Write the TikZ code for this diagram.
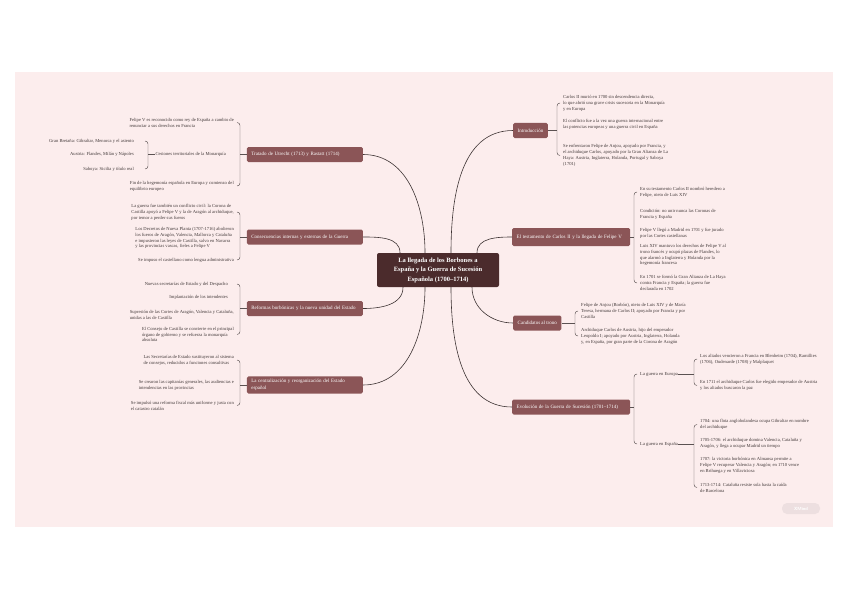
\documentclass[tikz,border=0pt]{standalone}
\usepackage{fontspec}
\setmainfont{Liberation Serif}
\usetikzlibrary{calc}
\definecolor{bgpink}{HTML}{FCEDED}
\definecolor{mainc}{HTML}{4B2B2C}
\definecolor{boxc}{HTML}{8B5557}
\definecolor{linec}{HTML}{3E3434}
\definecolor{txtc}{HTML}{433A3A}
\definecolor{wmc}{HTML}{EDDFE0}
\newcommand\braceLeft[4]{%
  \draw[brk] (#2.west) -- (#2.west -| #1);
  \draw[brk] ($(#3 -| #1)+(-3,0)$) to[out=0,in=90] ($(#3 -| #1)+(0,3)$) -- ($(#4 -| #1)+(0,-3)$) to[out=-90,in=0] ($(#4 -| #1)+(-3,0)$);}
\newcommand\braceRight[4]{%
  \draw[brk] (#2.east) -- (#2.east -| #1);
  \draw[brk] ($(#3 -| #1)+(3,0)$) to[out=180,in=90] ($(#3 -| #1)+(0,3)$) -- ($(#4 -| #1)+(0,-3)$) to[out=-90,in=180] ($(#4 -| #1)+(3,0)$);}
\begin{document}
\begin{tikzpicture}[x=1pt,y=-1pt,
  mainbox/.style={fill=mainc, rounded corners=2pt, text=white, font=\fontsize{6.5}{9.5}\selectfont\bfseries, align=center, minimum width=122, minimum height=34, inner sep=2},
  topic/.style={fill=boxc, rounded corners=1.5pt, text=white, font=\fontsize{5}{7.5}\selectfont, align=left, inner xsep=4.5, inner ysep=2.5, minimum height=15},
  leaf/.style={text=txtc, font=\fontsize{4.6}{5.9}\selectfont, align=left, inner sep=0},
  lleaf/.style={leaf, anchor=east},
  rleaf/.style={leaf, anchor=west},
  trunk/.style={draw=linec, line width=0.6},
  brk/.style={draw=linec!85, line width=0.45},
]
\useasboundingbox (0,0) rectangle (848,599);
\fill[white] (0,0) rectangle (848,599);
\fill[bgpink] (15,72) rectangle (833,527);

% bracket x positions
\coordinate (bxL) at (240,0);
\coordinate (bxS) at (148,0);
\coordinate (bxRa) at (557,0);
\coordinate (bxRb) at (634,0);
\coordinate (bxRc) at (575,0);
\coordinate (bxRd) at (634,0);
\coordinate (bxRe) at (694,0);

% central topic
\node[mainbox] (main) at (438,270) {La llegada de los Borbones a\\España y la Guerra de Sucesión\\Española (1700--1714)};

% ---------- left branches ----------
\node[topic, anchor=east, text width=107] (L1) at (363,154.5) {Tratado de Utrecht (1713) y Rastatt (1714)};
\node[topic, anchor=east, text width=107] (L2) at (363,237) {Consecuencias internas y externas de la Guerra};
\node[topic, anchor=east, text width=107] (L3) at (363,308.5) {Reformas borbónicas y la nueva unidad del Estado};
\node[topic, anchor=east, text width=107] (L4) at (363,385) {La centralización y reorganización del Estado\\español};

% L1 children
\node[lleaf] (L1a) at (234,122.5) {Felipe V es reconocido como rey de España a cambio de\\renunciar a sus derechos en Francia};
\node[lleaf] (L1b) at (226,154.5) {Cesiones territoriales de la Monarquía};
\node[lleaf] (L1c) at (234,186) {Fin de la hegemonía española en Europa y comienzo del\\equilibrio europeo};
\node[lleaf] (L1b1) at (134,141) {Gran Bretaña: Gibraltar, Menorca y el asiento};
\node[lleaf] (L1b2) at (134,154.5) {Austria: Flandes, Milán y Nápoles};
\node[lleaf] (L1b3) at (134,169) {Saboya: Sicilia y título real};

% L2 children
\node[lleaf] (L2a) at (234,212) {La guerra fue también un conflicto civil: la Corona de\\Castilla apoyó a Felipe V y la de Aragón al archiduque,\\por temor a perder sus fueros};
\node[lleaf] (L2b) at (234,238) {Los Decretos de Nueva Planta (1707-1716) abolieron\\los fueros de Aragón, Valencia, Mallorca y Cataluña\\e impusieron las leyes de Castilla, salvo en Navarra\\y las provincias vascas, fieles a Felipe V};
\node[lleaf] (L2c) at (234,260) {Se impuso el castellano como lengua administrativa};

% L3 children
\node[lleaf] (L3a) at (228,284) {Nuevas secretarías de Estado y del Despacho};
\node[lleaf] (L3b) at (228,297) {Implantación de los intendentes};
\node[lleaf] (L3c) at (234,315) {Supresión de las Cortes de Aragón, Valencia y Cataluña,\\unidas a las de Castilla};
\node[lleaf] (L3d) at (234,334.5) {El Consejo de Castilla se convierte en el principal\\órgano de gobierno y se refuerza la monarquía\\absoluta};

% L4 children
\node[lleaf] (L4a) at (234,360) {Las Secretarías de Estado sustituyeron al sistema\\de consejos, reducidos a funciones consultivas};
\node[lleaf] (L4b) at (234,385) {Se crearon las capitanías generales, las audiencias e\\intendencias en las provincias};
\node[lleaf] (L4c) at (234,405.5) {Se impulsó una reforma fiscal más uniforme y justa con\\el catastro catalán};

% ---------- right branches ----------
\node[topic, anchor=west] (R1) at (513,130.5) {Introducción};
\node[topic, anchor=west, text width=109, minimum height=18] (R2) at (512,237) {El testamento de Carlos II y la llegada de Felipe V};
\node[topic, anchor=west] (R3) at (513,323) {Candidatos al trono};
\node[topic, anchor=west, text width=109] (R4) at (512,407) {Evolución de la Guerra de Sucesión (1701--1714)};

% R1 children
\node[rleaf] (R1a) at (563,103) {Carlos II murió en 1700 sin descendencia directa,\\lo que abrió una grave crisis sucesoria en la Monarquía\\y en Europa};
\node[rleaf] (R1b) at (563,124.5) {El conflicto fue a la vez una guerra internacional entre\\las potencias europeas y una guerra civil en España};
\node[rleaf] (R1c) at (563,155.5) {Se enfrentaron Felipe de Anjou, apoyado por Francia, y\\el archiduque Carlos, apoyado por la Gran Alianza de La\\Haya: Austria, Inglaterra, Holanda, Portugal y Saboya\\(1701)};

% R2 children
\node[rleaf] (R2a) at (640,192) {En su testamento Carlos II nombró heredero a\\Felipe, nieto de Luis XIV};
\node[rleaf] (R2b) at (640,214.5) {Condición: no unir nunca las Coronas de\\Francia y España};
\node[rleaf] (R2c) at (640,233.5) {Felipe V llegó a Madrid en 1701 y fue jurado\\por las Cortes castellanas};
\node[rleaf] (R2d) at (640,255) {Luis XIV mantuvo los derechos de Felipe V al\\trono francés y ocupó plazas de Flandes, lo\\que alarmó a Inglaterra y Holanda por la\\hegemonía francesa};
\node[rleaf] (R2e) at (640,283) {En 1701 se formó la Gran Alianza de La Haya\\contra Francia y España; la guerra fue\\declarada en 1702};

% R3 children
\node[rleaf] (R3a) at (581,311) {Felipe de Anjou (Borbón), nieto de Luis XIV y de María\\Teresa, hermana de Carlos II; apoyado por Francia y por\\Castilla};
\node[rleaf] (R3b) at (581,336) {Archiduque Carlos de Austria, hijo del emperador\\Leopoldo I; apoyado por Austria, Inglaterra, Holanda\\y, en España, por gran parte de la Corona de Aragón};

% R4 children
\node[rleaf] (R4a) at (640,374) {La guerra en Europa};
\node[rleaf] (R4b) at (640,444) {La guerra en España};
\node[rleaf] (R4a1) at (700,359) {Los aliados vencieron a Francia en Blenheim (1704), Ramillies\\(1706), Oudenarde (1708) y Malplaquet};
\node[rleaf] (R4a2) at (700,385.5) {En 1711 el archiduque Carlos fue elegido emperador de Austria\\y los aliados buscaron la paz};
\node[rleaf] (R4b1) at (700,424.5) {1704: una flota angloholandesa ocupa Gibraltar en nombre\\del archiduque};
\node[rleaf] (R4b2) at (700,443.5) {1705-1706: el archiduque domina Valencia, Cataluña y\\Aragón, y llega a ocupar Madrid un tiempo};
\node[rleaf] (R4b3) at (700,465) {1707: la victoria borbónica en Almansa permite a\\Felipe V recuperar Valencia y Aragón; en 1710 vence\\en Brihuega y en Villaviciosa};
\node[rleaf] (R4b4) at (700,487.5) {1713-1714: Cataluña resiste sola hasta la caída\\de Barcelona};

% ---------- trunk connectors ----------
\draw[trunk] ([xshift=-13]main.north) to[out=90,in=0] (L1.east);
\draw[trunk] ([xshift=-38]main.north) to[out=90,in=0] (L2.east);
\draw[trunk] ([xshift=-35]main.south) to[out=-90,in=0] (L3.east);
\draw[trunk] ([xshift=-13]main.south) to[out=-90,in=0] (L4.east);
\draw[trunk] ([xshift=13]main.north) to[out=90,in=180] (R1.west);
\draw[trunk] ([xshift=39]main.north) to[out=90,in=180] (R2.west);
\draw[trunk] ([xshift=34]main.south) to[out=-90,in=180] (R3.west);
\draw[trunk] ([xshift=13]main.south) to[out=-90,in=180] (R4.west);

% ---------- braces ----------
\braceLeft{bxL}{L1}{L1a}{L1c}
\braceLeft{bxS}{L1b}{L1b1}{L1b3}
\braceLeft{bxL}{L2}{L2a}{L2c}
\braceLeft{bxL}{L3}{L3a}{L3d}
\braceLeft{bxL}{L4}{L4a}{L4c}
\braceRight{bxRa}{R1}{R1a}{R1c}
\braceRight{bxRb}{R2}{R2a}{R2e}
\braceRight{bxRc}{R3}{R3a}{R3b}
\braceRight{bxRd}{R4}{R4a}{R4b}
\braceRight{bxRe}{R4a}{R4a1}{R4a2}
\braceRight{bxRe}{R4b}{R4b1}{R4b4}

% watermark
\node[fill=wmc, rounded corners=5pt, minimum width=38, minimum height=11, inner sep=0, text=white, font=\fontsize{4.5}{5}\selectfont\sffamily\bfseries] (wm) at (801,508.5) {XMind};
\end{tikzpicture}
\end{document}
